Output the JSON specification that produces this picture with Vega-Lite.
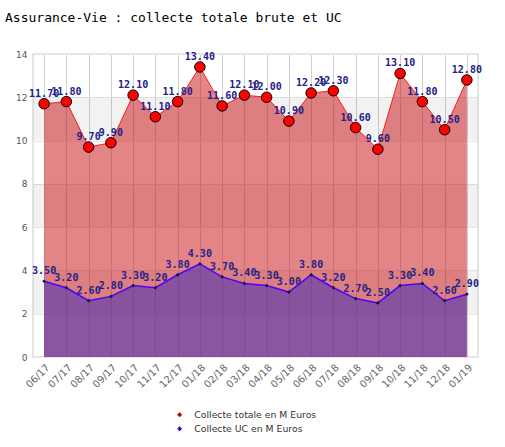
{
  "$schema": "https://vega.github.io/schema/vega-lite/v6.json",
  "autosize": "none",
  "width": 445,
  "height": 303,
  "padding": {"left": 33, "top": 54, "right": 27, "bottom": 90},
  "background": "white",
  "title": {
    "text": "Assurance-Vie : collecte totale brute et UC",
    "anchor": "start",
    "frame": "group",
    "dx": -28,
    "dy": 3,
    "offset": 28,
    "font": "DejaVu Sans Mono",
    "fontSize": 13,
    "fontWeight": "normal",
    "color": "black"
  },
  "config": {
    "view": {"stroke": "#dddddd", "strokeWidth": 1.5},
    "axis": {"labelFont": "DejaVu Sans", "labelFontSize": 9, "labelColor": "#555555", "ticks": false, "domain": false, "title": null, "gridColor": "#d0d0d0"}
  },
  "datasets": {
    "collecte": [
      {"mois": "06/17", "total": 11.7, "uc": 3.5},
      {"mois": "07/17", "total": 11.8, "uc": 3.2},
      {"mois": "08/17", "total": 9.7, "uc": 2.6},
      {"mois": "09/17", "total": 9.9, "uc": 2.8},
      {"mois": "10/17", "total": 12.1, "uc": 3.3},
      {"mois": "11/17", "total": 11.1, "uc": 3.2},
      {"mois": "12/17", "total": 11.8, "uc": 3.8},
      {"mois": "01/18", "total": 13.4, "uc": 4.3},
      {"mois": "02/18", "total": 11.6, "uc": 3.7},
      {"mois": "03/18", "total": 12.1, "uc": 3.4},
      {"mois": "04/18", "total": 12.0, "uc": 3.3},
      {"mois": "05/18", "total": 10.9, "uc": 3.0},
      {"mois": "06/18", "total": 12.2, "uc": 3.8},
      {"mois": "07/18", "total": 12.3, "uc": 3.2},
      {"mois": "08/18", "total": 10.6, "uc": 2.7},
      {"mois": "09/18", "total": 9.6, "uc": 2.5},
      {"mois": "10/18", "total": 13.1, "uc": 3.3},
      {"mois": "11/18", "total": 11.8, "uc": 3.4},
      {"mois": "12/18", "total": 10.5, "uc": 2.6},
      {"mois": "01/19", "total": 12.8, "uc": 2.9}
    ],
    "bandes": [
      {"lo": 2, "hi": 4},
      {"lo": 6, "hi": 8},
      {"lo": 10, "hi": 12}
    ]
  },
  "layer": [
    {
      "data": {"name": "bandes"},
      "mark": {"type": "rect", "color": "#000000", "opacity": 0.05},
      "encoding": {
        "y": {"field": "lo", "type": "quantitative", "scale": {"domain": [0, 14]}, "axis": {"values": [0, 2, 4, 6, 8, 10, 12, 14], "labelPadding": 6, "gridColor": "#e6e6e6"}},
        "y2": {"field": "hi"}
      }
    },
    {
      "data": {"name": "collecte"},
      "encoding": {
        "x": {"field": "mois", "type": "ordinal", "sort": null, "scale": {"type": "point", "padding": 0.5}, "axis": {"labelAngle": -45, "labelPadding": 5, "labelFontSize": 10, "grid": true, "labelColor": "#666666"}}
      },
      "layer": [
        {"mark": {"type": "area", "color": "#c80a10", "opacity": 0.5}, "encoding": {"y": {"field": "total", "type": "quantitative"}}},
        {"mark": {"type": "area", "color": "#3425bb", "opacity": 0.5}, "encoding": {"y": {"field": "uc", "type": "quantitative"}}},
        {"mark": {"type": "line", "color": "#ff1a1a", "strokeWidth": 1}, "encoding": {"y": {"field": "total", "type": "quantitative"}}},
        {"mark": {"type": "line", "color": "#5000ff", "strokeWidth": 1.5}, "encoding": {"y": {"field": "uc", "type": "quantitative"}}},
        {"mark": {"type": "point", "shape": "circle", "filled": true, "fill": "#ff0000", "stroke": "black", "strokeWidth": 1, "size": 110, "opacity": 1}, "encoding": {"y": {"field": "total", "type": "quantitative"}}},
        {"mark": {"type": "point", "shape": "diamond", "filled": true, "color": "#111133", "size": 14, "opacity": 1}, "encoding": {"y": {"field": "uc", "type": "quantitative"}}},
        {"mark": {"type": "text", "dy": -10, "font": "DejaVu Sans Mono", "fontWeight": "bold", "fontSize": 10, "color": "#22228a"}, "encoding": {"y": {"field": "total", "type": "quantitative"}, "text": {"field": "total", "type": "quantitative", "format": ".2f"}}},
        {"mark": {"type": "text", "dy": -10, "font": "DejaVu Sans Mono", "fontWeight": "bold", "fontSize": 10, "color": "#22228a"}, "encoding": {"y": {"field": "uc", "type": "quantitative"}, "text": {"field": "uc", "type": "quantitative", "format": ".2f"}}},
        {
          "transform": [{"fold": ["total", "uc"], "as": ["serie", "valeur"]}],
          "mark": {"type": "point", "shape": "diamond", "filled": true, "opacity": 0},
          "encoding": {
            "y": {"field": "valeur", "type": "quantitative"},
            "color": {
              "field": "serie", "type": "nominal",
              "scale": {"domain": ["total", "uc"], "range": ["#b00000", "#3300ee"]},
              "legend": {
                "orient": "none", "legendX": 142, "legendY": 356, "title": null,
                "labelExpr": "datum.label == 'total' ? 'Collecte totale en M Euros' : 'Collecte UC en M Euros'",
                "labelFont": "DejaVu Sans", "labelFontSize": 9.3, "labelColor": "#333333",
                "symbolType": "diamond", "symbolSize": 25, "symbolOpacity": 1, "symbolStrokeWidth": 0,
                "rowPadding": 4, "labelOffset": 10
              }
            }
          }
        }
      ]
    }
  ]
}
